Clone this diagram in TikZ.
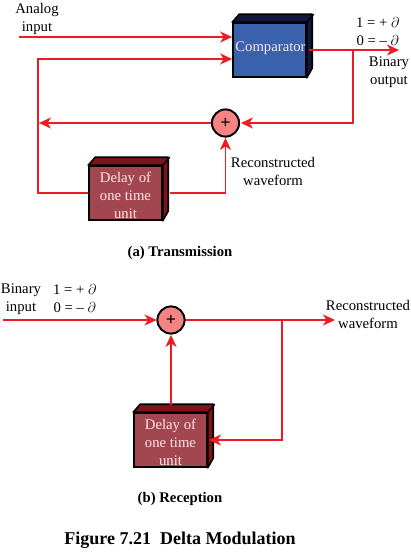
\documentclass[tikz,border=0pt]{standalone}
\usepackage{fontspec}
\setmainfont{Liberation Serif}
\usetikzlibrary{arrows.meta}
\definecolor{wirered}{HTML}{ED1C24}
\definecolor{compblue}{HTML}{3A62AC}
\definecolor{compdark}{HTML}{10183C}
\definecolor{delayred}{HTML}{A24750}
\definecolor{delaydark}{HTML}{7D1418}
\definecolor{sumred}{HTML}{F48484}
\tikzset{
  wire/.style={wirered,line width=1.7pt},
  flow/.style={wire,-{Stealth[length=12pt,width=11pt,inset=3.5pt]}},
  blockbox/.style={draw=black,line width=1.6pt,minimum width=73pt,minimum height=54pt,inner sep=0pt,align=center,text=white!90!red},
  sumnode/.style={circle,draw=black,fill=sumred,line width=1.8pt,minimum size=27pt,inner sep=0pt,font=\fontsize{18}{18}\selectfont\bfseries},
  lbl/.style={align=center,inner sep=0pt},
  capt/.style={inner sep=0pt,font=\fontsize{14.7}{18}\selectfont\bfseries}
}
% side and top faces of a block
\newcommand{\blockdepth}[2]{
  \draw[black,line width=1.6pt,fill=#2,line join=round] (#1.north west) -- ++(7,-8) -- ++(73,0) -- ++(0,54) -- (#1.south east) -- (#1.north east) -- cycle;
  \draw[black,line width=1.3pt] (#1.north east) -- ++(7,-8);
}
\newcommand{\delaytext}{\rule{0pt}{16pt}Delay of\\one time\\unit}
\begin{document}
\begin{tikzpicture}[x=1pt,y=-1pt,font=\fontsize{14.7}{18}\selectfont]
  \useasboundingbox (0,0) rectangle (411,552);

  % (a) transmission
  \node[blockbox,fill=compblue] (comp) at (269.5,50) {\raisebox{6pt}{\hspace*{2pt}Comparator}};
  \blockdepth{comp}{compdark}
  \node[blockbox,fill=delayred] (delaya) at (125.5,193) {\delaytext};
  \blockdepth{delaya}{delaydark}
  \node[sumnode] (suma) at (225.5,123) {};

  \coordinate (inA) at (19,37);
  \coordinate (cornerA) at (38,59);
  \coordinate (leftA) at (39,123);
  \coordinate (outA) at (399,50);
  \coordinate (tapA) at (353,50);

  \draw[flow] (inA) -- (inA -| comp.west);
  \draw[flow] (delaya.west) -- (delaya.west -| cornerA) -- (cornerA) -- (cornerA -| comp.west);
  \draw[flow] (suma) -- (leftA);
  \draw[flow] ([xshift=2pt]comp.east) -- (outA);
  \draw[flow,shorten >=1pt] (tapA) |- (suma);
  \draw[flow,shorten >=.5pt] ([xshift=7pt]delaya.east) -| (suma);
  \node[sumnode] at (suma) {+};

  \node[lbl] (analog) at (37,19) {Analog\\input};
  \node[lbl,anchor=west] (eqa) at (356,32) {1 = + $\partial$\\0 = -- $\partial$};
  \node[lbl] (binout) at (389,72) {Binary\\output};
  \node[lbl] (recona) at (273,171) {Reconstructed\\waveform};
  \node[capt] (capa) at (180,253) {(a) Transmission};

  % (b) reception
  \node[blockbox,fill=delayred] (delayb) at (170.5,440) {\delaytext};
  \blockdepth{delayb}{delaydark}
  \node[sumnode] (sumb) at (171,320) {};

  \coordinate (inB) at (3,320);
  \coordinate (outB) at (335,320);
  \coordinate (tapB) at (282,320);
  \coordinate (backB) at (209,440);
  \coordinate (topB) at (171,405);

  \draw[flow] (inB) -- (sumb);
  \draw[flow] (sumb) -- (outB);
  \draw[flow] (tapB) |- (backB);
  \draw[flow,shorten >=.5pt] (topB) -- (sumb);
  \node[sumnode] at (sumb) {+};

  \node[lbl] (binin) at (21,299) {Binary\\input};
  \node[lbl,anchor=west] (eqb) at (53,299) {1 = + $\partial$\\0 = -- $\partial$};
  \node[lbl] (reconb) at (368,314) {Reconstructed\\waveform};
  \node[capt] (capb) at (180,499) {(b) Reception};
  \node[capt,font=\fontsize{18}{21}\selectfont\bfseries] (fig) at (180,540) {Figure 7.21\hspace{.25em} Delta Modulation};
\end{tikzpicture}
\end{document}
